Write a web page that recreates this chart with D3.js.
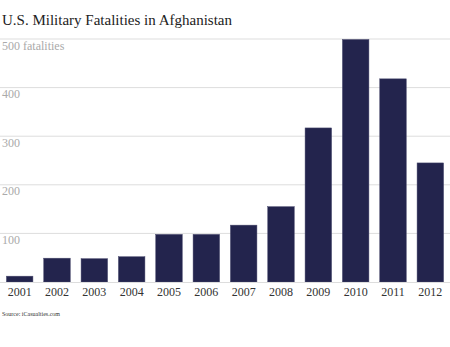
<!DOCTYPE html>
<html>
<head>
<meta charset="utf-8">
<script src="https://cdn.jsdelivr.net/npm/d3@7"></script>
<style>
  body { margin: 0; background: #fff; }
  text { font-family: "Liberation Serif", "DejaVu Serif", serif; }
</style>
</head>
<body>
<svg id="svg" width="450" height="347"></svg>
<script>
const years = ['2001','2002','2003','2004','2005','2006','2007','2008','2009','2010','2011','2012'];
const fatalities = [12, 49, 48, 52, 98, 98, 117, 155, 317, 499, 418, 245];
const yTicks = [100, 200, 300, 400, 500];

const svg = d3.select('#svg');

const xScale = d3.scaleBand()
    .domain(years)
    .range([1, 449])
    .paddingInner(0.29)
    .paddingOuter(0.145);

const yScale = d3.scaleLinear()
    .domain([0, 500])
    .range([282, 39]);

// title
svg.append('text')
    .attr('x', 2)
    .attr('y', 25)
    .attr('font-family', '"DejaVu Serif Condensed", "DejaVu Serif", serif')
    .attr('font-size', 15)
    .attr('textLength', 230)
    .attr('lengthAdjust', 'spacingAndGlyphs')
    .attr('fill', '#222')
    .text('U.S. Military Fatalities in Afghanistan');

// gridlines + labels
const grid = svg.append('g').selectAll('g')
    .data(yTicks)
    .enter()
    .append('g');

grid.append('line')
    .attr('x1', 0)
    .attr('x2', 450)
    .attr('y1', d => yScale(d))
    .attr('y2', d => yScale(d))
    .attr('stroke', '#dddddd')
    .attr('stroke-width', 1);

grid.append('text')
    .attr('x', 2)
    .attr('y', d => yScale(d) + 10.5)
    .attr('font-size', 12)
    .attr('fill', '#aaaaaa')
    .text(d => d === 500 ? d + ' fatalities' : d);

// bars
svg.append('g')
    .selectAll('rect')
    .data(fatalities)
    .enter()
    .append('rect')
    .attr('x', (d, i) => xScale(years[i]))
    .attr('width', xScale.bandwidth())
    .attr('y', d => yScale(d))
    .attr('height', d => yScale(0) - yScale(d))
    .attr('fill', '#23244d')
    .attr('stroke', '#4a4b6e')
    .attr('stroke-width', 0.5);

// baseline
svg.append('line')
    .attr('x1', 0)
    .attr('x2', 450)
    .attr('y1', yScale(0) + 0.5)
    .attr('y2', yScale(0) + 0.5)
    .attr('stroke', '#dddddd');

// x axis
const xAxis = d3.axisBottom(xScale).tickSize(0).tickPadding(6);
const ax = svg.append('g')
    .attr('transform', 'translate(0,' + yScale(0) + ')')
    .call(xAxis);
ax.select('.domain').remove();
ax.selectAll('text')
    .attr('font-family', '"Liberation Serif", serif')
    .attr('font-size', 12)
    .attr('dy', null)
    .attr('y', 14)
    .attr('fill', '#333');

// source
svg.append('text')
    .attr('x', 2)
    .attr('y', 316)
    .attr('font-size', 6)
    .attr('fill', '#333')
    .text('Source: iCasualties.com');
</script>
</body>
</html>
